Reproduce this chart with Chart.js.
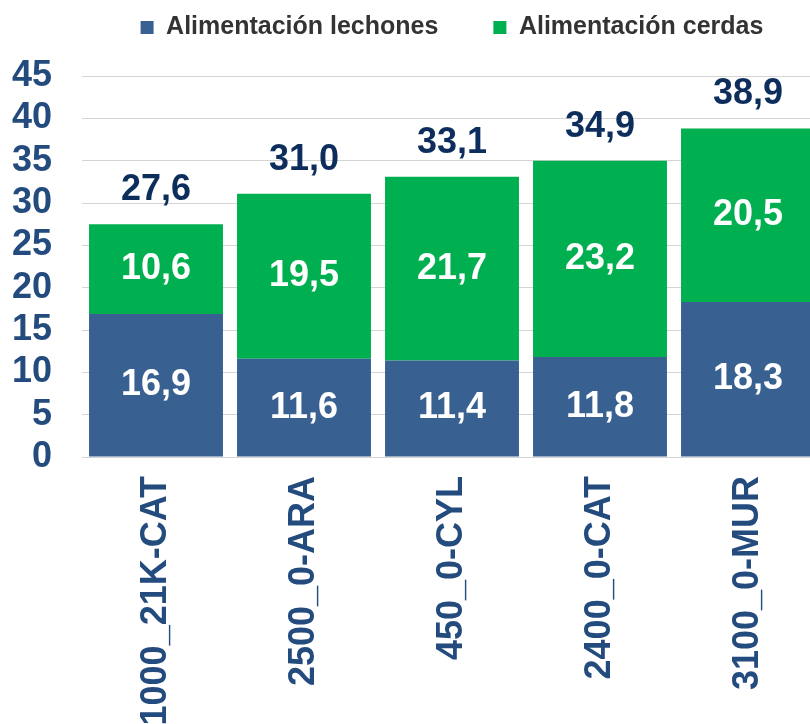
<!DOCTYPE html>
<html>
<head>
<meta charset="utf-8">
<script src="https://cdn.jsdelivr.net/npm/chart.js@4/dist/chart.umd.min.js"></script>
<style>
  html, body { margin: 0; padding: 0; background: #fff; overflow: hidden; }
  #wrap { position: absolute; left: 0; top: 0; width: 822px; height: 740px; }
</style>
</head>
<body>
<div id="wrap"><canvas id="chartCostes"></canvas></div>
<script>
// datos
let categories = ['1000_21K-CAT', '2500_0-ARA', '450_0-CYL', '2400_0-CAT', '3100_0-MUR']
let lechones = [16.9, 11.6, 11.4, 11.8, 18.3]
let cerdas = [10.6, 19.5, 21.7, 23.2, 20.5]
let totals = [27.6, 31.0, 33.1, 34.9, 38.9]
let yTicks = [0, 5, 10, 15, 20, 25, 30, 35, 40, 45]

let blue = '#386192'
let green = '#00b050'
let tickColor = '#234b7d'
let fontFamily = '"Liberation Sans", Arial, sans-serif'

Chart.defaults.font.family = fontFamily

const fmt = v => v.toFixed(1).replace('.', ',')

// etiquetas dentro de las barras y totales encima
const barLabels = {
    id: 'barLabels',
    afterDatasetsDraw(chart) {
        const ctx = chart.ctx
        ctx.save()
        ctx.font = 'bold 36px ' + fontFamily
        ctx.textAlign = 'center'
        ctx.textBaseline = 'middle'
        ctx.fillStyle = '#ffffff'
        chart.data.datasets.forEach((ds, i) => {
            chart.getDatasetMeta(i).data.forEach((bar, j) => {
                ctx.fillText(fmt(ds.data[j]), bar.x, (bar.y + bar.base) / 2)
            })
        })
        ctx.fillStyle = '#0d2e5c'
        const top = chart.getDatasetMeta(chart.data.datasets.length - 1).data
        totals.forEach((t, j) => {
            ctx.fillText(fmt(t), top[j].x, top[j].y - 34)
        })
        ctx.restore()
    }
}

let ctxCostes = document.querySelector('#chartCostes').getContext('2d')

let chartCostes = new Chart(ctxCostes, {
    type: 'bar',
    data: {
        labels: categories,
        datasets: [
            {
                label: 'Alimentación lechones',
                data: lechones,
                backgroundColor: blue,
                borderWidth: 0,
                categoryPercentage: 1,
                barPercentage: 0.905
            },
            {
                label: 'Alimentación cerdas',
                data: cerdas,
                backgroundColor: green,
                borderWidth: 0,
                categoryPercentage: 1,
                barPercentage: 0.905
            }
        ]
    },
    options: {
        responsive: true,
        maintainAspectRatio: false,
        animation: false,
        layout: { padding: { top: -40, left: 0, right: 0, bottom: 0 } },
        scales: {
            x: {
                stacked: true,
                grid: { display: false },
                border: { display: false },
                ticks: {
                    color: tickColor,
                    font: { size: 36, weight: 'bold' },
                    minRotation: 90,
                    maxRotation: 90,
                    autoSkip: false,
                    padding: 11
                },
                afterFit: s => { s.height = 283 }
            },
            y: {
                stacked: true,
                min: 0,
                max: 45,
                grid: { color: '#d4d4d4', lineWidth: 1, drawTicks: false },
                border: { display: false },
                afterBuildTicks: s => { s.ticks = yTicks.map(v => ({ value: v })) },
                ticks: {
                    color: tickColor,
                    font: { size: 36, weight: 'bold', lineHeight: 1 },
                    autoSkip: false,
                    padding: 30
                },
                afterFit: s => { s.width = 82 }
            }
        },
        plugins: {
            tooltip: { enabled: false },
            legend: {
                display: true,
                position: 'top',
                fullSize: false,
                weight: 3000,
                labels: {
                    color: '#333333',
                    font: { size: 25, weight: 'bold' },
                    boxWidth: 13,
                    boxHeight: 13,
                    padding: 55
                }
            },
            title: {
                display: true,
                text: '',
                font: { size: 26, lineHeight: 1 },
                padding: 0
            }
        }
    },
    plugins: [barLabels]
})
</script>
</body>
</html>
